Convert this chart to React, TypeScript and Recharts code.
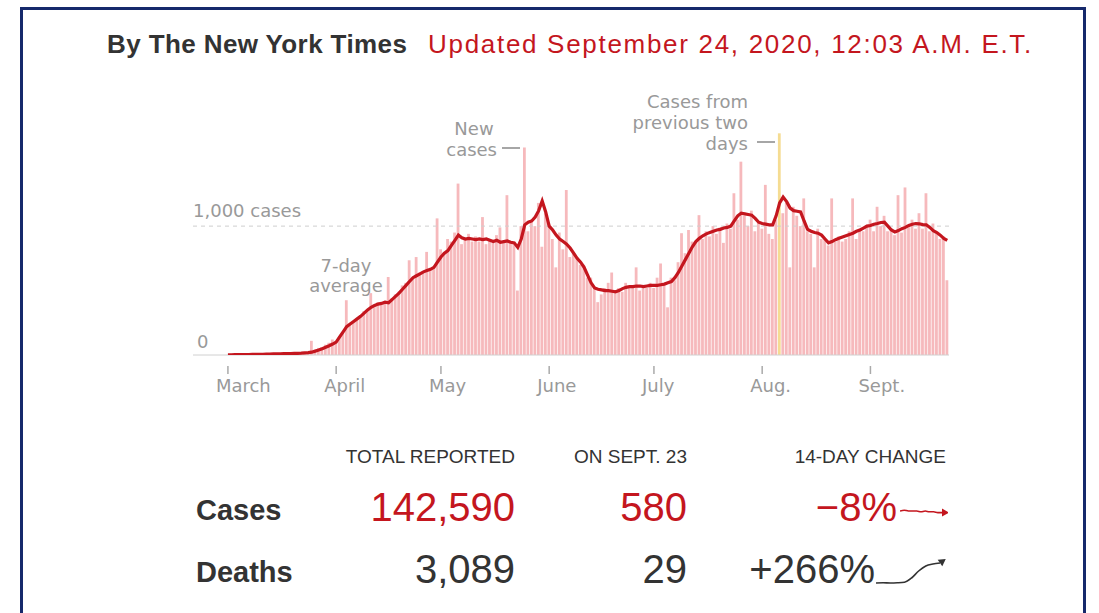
import { Bar, Cell, ComposedChart, Line, LineChart, ReferenceLine, XAxis, YAxis } from "recharts";

// day 0 = March 1
const MONTH_TICKS = [0, 31, 61, 92, 122, 153, 184];
const MONTH_LABELS = ["March", "April", "May", "June", "July", "Aug.", "Sept."];

const MARCH_CASES = [0, 0, 1, 0, 2, 1, 3, 2, 4, 5, 3, 6, 8, 5, 9, 7, 12, 10, 13, 9, 15, 18, 14, 20, 110, 40, 55, 62, 80, 95, 120];
const APRIL_CASES = [110, 140, 170, 425, 240, 265, 270, 310, 340, 350, 480, 390, 410, 390, 420, 605, 440, 470, 490, 540, 560, 735, 600, 760, 640, 650, 800, 660, 680, 1060];
const MAY_CASES = [820, 800, 900, 880, 950, 1330, 860, 900, 940, 880, 920, 880, 1070, 860, 900, 870, 930, 990, 880, 1240, 870, 860, 500, 1000, 1610, 960, 1050, 1000, 1180, 840, 1100];
const JUNE_CASES = [1020, 900, 680, 950, 820, 1280, 760, 800, 760, 700, 700, 600, 600, 510, 410, 470, 520, 560, 640, 480, 520, 490, 560, 520, 520, 680, 500, 520, 520, 560];
const JULY_CASES = [520, 600, 710, 540, 370, 600, 580, 720, 945, 790, 970, 880, 880, 1085, 900, 960, 920, 1000, 940, 990, 870, 1020, 980, 1255, 1050, 1500, 1080, 1000, 1120, 960, 1040];
const AUG_CASES = [980, 1320, 940, 900, 1050, 1720, 1100, 1180, 680, 1150, 1080, 1000, 1215, 960, 940, 680, 980, 900, 900, 850, 1215, 880, 920, 880, 900, 960, 1215, 900, 980, 960, 1000];
const SEPT_CASES = [1050, 960, 1150, 1000, 1080, 960, 980, 930, 1240, 950, 1300, 1000, 1050, 980, 1100, 980, 1255, 960, 1020, 940, 900, 920, 580];

const MARCH_AVG = [2, 2, 3, 3, 3, 4, 4, 5, 5, 6, 6, 7, 7, 8, 8, 9, 10, 10, 11, 12, 13, 14, 16, 18, 22, 30, 38, 48, 60, 72, 85];
const APRIL_AVG = [100, 140, 180, 220, 240, 260, 280, 300, 325, 350, 370, 385, 395, 400, 410, 405, 430, 455, 480, 510, 540, 570, 600, 615, 630, 645, 655, 665, 680, 720];
const MAY_AVG = [760, 790, 810, 850, 890, 930, 910, 900, 905, 900, 895, 900, 895, 900, 890, 880, 890, 875, 880, 885, 875, 870, 835, 900, 1010, 1030, 1040, 1070, 1120, 1195, 1110];
const JUNE_AVG = [1000, 970, 930, 900, 880, 860, 830, 790, 750, 720, 680, 620, 560, 520, 510, 505, 500, 500, 495, 490, 500, 515, 525, 530, 530, 535, 535, 530, 535, 540];
const JULY_AVG = [540, 540, 545, 550, 560, 570, 600, 640, 690, 740, 790, 840, 880, 905, 925, 940, 950, 960, 970, 975, 985, 990, 1000, 1040, 1080, 1100, 1095, 1090, 1085, 1060, 1030];
const AUG_AVG = [1020, 1015, 1010, 1010, 1080, 1180, 1225, 1190, 1140, 1120, 1115, 1110, 1040, 975, 960, 950, 945, 930, 900, 870, 880, 895, 905, 915, 925, 935, 945, 960, 970, 985, 1000];
const SEPT_AVG = [1005, 1015, 1020, 1028, 1030, 1000, 970, 955, 965, 980, 990, 1005, 1015, 1020, 1018, 1012, 1010, 990, 965, 950, 930, 905, 890];

// reported day that held two days of cases
const DOUBLE_DAY = 158;

const dailyCases = [...MARCH_CASES, ...APRIL_CASES, ...MAY_CASES, ...JUNE_CASES, ...JULY_CASES, ...AUG_CASES, ...SEPT_CASES];
const weeklyAvg = [...MARCH_AVG, ...APRIL_AVG, ...MAY_AVG, ...JUNE_AVG, ...JULY_AVG, ...AUG_AVG, ...SEPT_AVG];
const chartData = dailyCases.map((cases, day) => ({ day, cases, avg: weeklyAvg[day] }));

const ROW_LABELS = ["Cases", "Deaths"];
const TOTALS = ["142,590", "3,089"];
const ON_DAY = ["580", "29"];
const CHANGES = ["\u22128%", "+266%"];
const CASES_TREND = [1.0, 1.01, 1.0, 1.0, 1.0, 0.99, 1.0, 0.99, 0.99, 0.98, 0.98];
const DEATHS_TREND = [0, 0.01, 0, 0.01, 0.04, 0.25, 0.6, 0.85, 0.95, 1.0];

const RED = "#c4161e";
const DARK = "#333";
const GRAY = "#999";
const CHART_FONT = "'DejaVu Sans', sans-serif";
const TABLE_FONT = "'Liberation Sans', Arial, sans-serif";

function MonthTick({ x, y, index }: any) {
  return (
    <g>
      <line x1={x} x2={x} y1={y + 3} y2={y + 11} stroke="#aaa" strokeWidth={1.5} />
      <text x={x - 12} y={y + 29} fill={GRAY} fontSize={18} fontFamily={CHART_FONT}>
        {MONTH_LABELS[index]}
      </text>
    </g>
  );
}

function ArrowDot(angle: number, color: string, last: number) {
  return ({ cx, cy, index }: any) => {
    if (index !== last) return <g key={index} />;
    return (
      <path
        key={index}
        d="M0,-4 L7,0 L0,4 Z"
        fill={color}
        transform={`translate(${cx},${cy}) rotate(${angle})`}
      />
    );
  };
}

function Trend({ values, color, angle, width, height, domain }: { values: number[]; color: string; angle: number; width: number; height: number; domain: [number, number] }) {
  const data = values.map((v, i) => ({ i, v }));
  return (
    <LineChart width={width} height={height} data={data} margin={{ top: 5, right: 6, bottom: 3, left: 0 }}>
      <XAxis dataKey="i" type="number" domain={[0, values.length - 1]} hide />
      <YAxis domain={domain} hide />
      <Line
        dataKey="v"
        type="monotone"
        stroke={color}
        strokeWidth={1.6}
        dot={ArrowDot(angle, color, values.length - 1)}
        isAnimationActive={false}
      />
    </LineChart>
  );
}

export default function App() {
  return (
    <div style={{ position: "absolute", left: 0, top: 0, width: 1099, height: 613, background: "#fff", overflow: "hidden" }}>
      <div
        style={{
          position: "absolute",
          left: 20,
          top: 7,
          width: 1066,
          height: 640,
          boxSizing: "border-box",
          border: "3px solid #16296b",
        }}
      />
      <svg width={1099} height={613} style={{ position: "absolute", left: 0, top: 0 }}>
        <text x={107} y={53} fontFamily={TABLE_FONT} fontWeight={700} fontSize={26} letterSpacing={0.4} fill={DARK}>
          By The New York Times
        </text>
        <text x={428} y={53} fontFamily={TABLE_FONT} fontSize={26} letterSpacing={1.7} fill={RED}>
          Updated September 24, 2020, 12:03 A.M. E.T.
        </text>

        <g fontFamily={CHART_FONT} fontSize={18} fill={GRAY}>
          <text x={474} y={135} textAnchor="middle">New</text>
          <text x={497} y={156} textAnchor="end">cases</text>
          <text x={346} y={272} textAnchor="middle">7-day</text>
          <text x={346} y={292} textAnchor="middle">average</text>
          <text x={748} y={108} textAnchor="end">Cases from</text>
          <text x={748} y={129} textAnchor="end">previous two</text>
          <text x={748} y={150} textAnchor="end">days</text>
        </g>
        <line x1={502} x2={520} y1={148} y2={148} stroke="#888" strokeWidth={1.5} />
        <line x1={757} x2={775} y1={142} y2={142} stroke="#888" strokeWidth={1.5} />

        <g fontFamily={TABLE_FONT} fontSize={19} fill={DARK}>
          <text x={515} y={463} textAnchor="end">TOTAL REPORTED</text>
          <text x={687} y={463} textAnchor="end">ON SEPT. 23</text>
          <text x={946} y={463} textAnchor="end">14-DAY CHANGE</text>
        </g>
        {ROW_LABELS.map((label, i) => (
          <g key={label} fontFamily={TABLE_FONT}>
            <text x={196} y={520 + i * 62} fontSize={29} fontWeight={700} fill={DARK}>{label}</text>
            <text x={515} y={521 + i * 62} fontSize={40} textAnchor="end" fill={i === 0 ? RED : DARK}>{TOTALS[i]}</text>
            <text x={687} y={521 + i * 62} fontSize={40} textAnchor="end" fill={i === 0 ? RED : DARK}>{ON_DAY[i]}</text>
            <text x={i === 0 ? 897 : 875} y={521 + i * 62} fontSize={40} textAnchor="end" fill={i === 0 ? RED : DARK}>{CHANGES[i]}</text>
          </g>
        ))}
      </svg>

      <div style={{ position: "absolute", left: 193, top: 123 }}>
        <ComposedChart width={756} height={290} data={chartData} margin={{ top: 0, right: 0, bottom: 0, left: 0 }}>
          <XAxis
            dataKey="day"
            type="number"
            domain={[-10, 206.5]}
            ticks={MONTH_TICKS}
            interval={0}
            axisLine={false}
            tickLine={false}
            tick={<MonthTick />}
            height={58}
            allowDataOverflow
          />
          <YAxis domain={[0, 1800]} hide allowDataOverflow />
          <ReferenceLine
            y={1000}
            stroke="#cfcfcf"
            strokeDasharray="4 4"
            label={{ value: "1,000 cases", position: "insideTopLeft", offset: 0, dy: -22, fill: GRAY, fontSize: 18, fontFamily: CHART_FONT }}
          />
          <Bar dataKey="cases" barSize={2.8} isAnimationActive={false}>
            {chartData.map((d) => (
              <Cell key={d.day} fill={d.day === DOUBLE_DAY ? "#f5dc92" : "#f6b9bc"} />
            ))}
          </Bar>
          <ReferenceLine
            y={0}
            stroke="#d0d0d0"
            label={{ value: "0", position: "insideTopLeft", offset: 0, dx: 4, dy: -20, fill: GRAY, fontSize: 18, fontFamily: CHART_FONT }}
          />
          <Line dataKey="avg" type="linear" stroke={RED} strokeWidth={3.2} dot={false} isAnimationActive={false} />
        </ComposedChart>
      </div>

      <div style={{ position: "absolute", left: 900, top: 502 }}>
        <Trend values={CASES_TREND} color={RED} angle={0} width={48} height={20} domain={[0.9, 1.05]} />
      </div>
      <div style={{ position: "absolute", left: 876, top: 558 }}>
        <Trend values={DEATHS_TREND} color={DARK} angle={-35} width={70} height={28} domain={[0, 1]} />
      </div>
    </div>
  );
}
